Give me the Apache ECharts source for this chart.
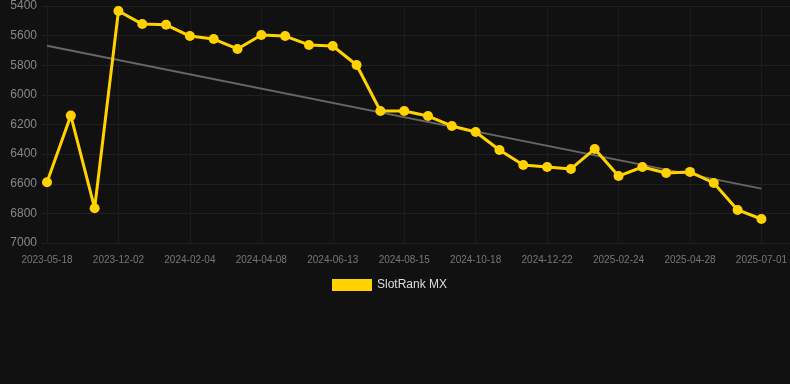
<!DOCTYPE html>
<html>
<head>
<meta charset="utf-8">
<script src="https://cdn.jsdelivr.net/npm/echarts@6/dist/echarts.min.js"></script>
<style>
html,body{margin:0;padding:0;background:#111111;}
#chart{width:790px;height:384px;}
</style>
</head>
<body>
<div id="chart"></div>
<script>
const categories = [
  "2023-05-18","2023-06-15","2023-07-20","2023-12-02","2023-12-20","2024-01-15",
  "2024-02-04","2024-02-20","2024-03-10","2024-04-08","2024-04-25","2024-05-20",
  "2024-06-13","2024-07-01","2024-07-25","2024-08-15","2024-09-05","2024-09-25",
  "2024-10-18","2024-11-08","2024-12-01","2024-12-22","2025-01-12","2025-02-02",
  "2025-02-24","2025-03-15","2025-04-05","2025-04-28","2025-05-20","2025-06-10",
  "2025-07-01"
];
const rankValues = [
  6590, 6140, 6765, 5434, 5522, 5527,
  5603, 5623, 5690, 5596, 5603, 5663,
  5670, 5798, 6109, 6109, 6143, 6210,
  6251, 6372, 6473, 6487, 6500, 6365,
  6548, 6487, 6527, 6520, 6595, 6777,
  6838
];
const trendStart = 5668;
const trendEnd = 6633;
const trendData = categories.map((c, i) => i === 0 ? trendStart : (i === categories.length - 1 ? trendEnd : null));
const yTicks = { min: 5400, max: 7000, step: 200 };

const chart = echarts.init(document.getElementById('chart'), null, { renderer: 'canvas' });
chart.setOption({
  backgroundColor: '#111111',
  animation: false,
  legend: {
    show: true,
    top: 274,
    left: 327,
    itemWidth: 40,
    itemHeight: 12,
    icon: 'rect',
    data: [{ name: 'SlotRank MX', itemStyle: { color: '#FFD200' } }],
    textStyle: { color: '#dddddd', fontSize: 12, fontFamily: 'Liberation Sans, Arial, sans-serif' }
  },
  grid: [
    { left: 47, right: 28, top: 6, bottom: 141, containLabel: false },
    { left: 42, right: 0, top: 6, bottom: 141, containLabel: false }
  ],
  xAxis: [
    {
      type: 'category',
      gridIndex: 0,
      data: categories,
      boundaryGap: false,
      axisLine: { show: false },
      axisTick: { show: false },
      axisLabel: {
        interval: 2,
        color: '#777777',
        fontSize: 10,
        margin: 12,
        fontFamily: 'Liberation Sans, Arial, sans-serif'
      },
      splitLine: { show: true, interval: 2, lineStyle: { color: '#1c1c1c', width: 1 } }
    },
    {
      type: 'value',
      gridIndex: 1,
      min: 0, max: 1,
      show: false
    }
  ],
  yAxis: [
    {
      type: 'value',
      gridIndex: 0,
      inverse: true,
      min: yTicks.min,
      max: yTicks.max,
      interval: yTicks.step,
      axisLine: { show: false },
      axisTick: { show: false },
      axisLabel: {
        color: '#888888',
        fontSize: 12,
        margin: 10,
        formatter: v => String(v),
        fontFamily: 'Liberation Sans, Arial, sans-serif'
      },
      splitLine: { show: false }
    },
    {
      type: 'value',
      gridIndex: 1,
      inverse: true,
      min: yTicks.min,
      max: yTicks.max,
      interval: yTicks.step,
      axisLine: { show: false },
      axisTick: { show: false },
      axisLabel: { show: false },
      splitLine: { show: true, lineStyle: { color: '#202020', width: 1 } }
    }
  ],
  series: [
    {
      name: 'Trend',
      type: 'line',
      xAxisIndex: 0,
      yAxisIndex: 0,
      data: trendData,
      connectNulls: true,
      symbol: 'none',
      lineStyle: { color: '#666666', width: 2 },
      itemStyle: { color: '#666666' },
      z: 2,
      silent: true
    },
    {
      name: 'SlotRank MX',
      type: 'line',
      xAxisIndex: 0,
      yAxisIndex: 0,
      data: rankValues,
      symbol: 'circle',
      symbolSize: 10,
      lineStyle: { color: '#FFD200', width: 3 },
      itemStyle: { color: '#FFD200' },
      z: 3
    }
  ]
});
</script>
</body>
</html>
